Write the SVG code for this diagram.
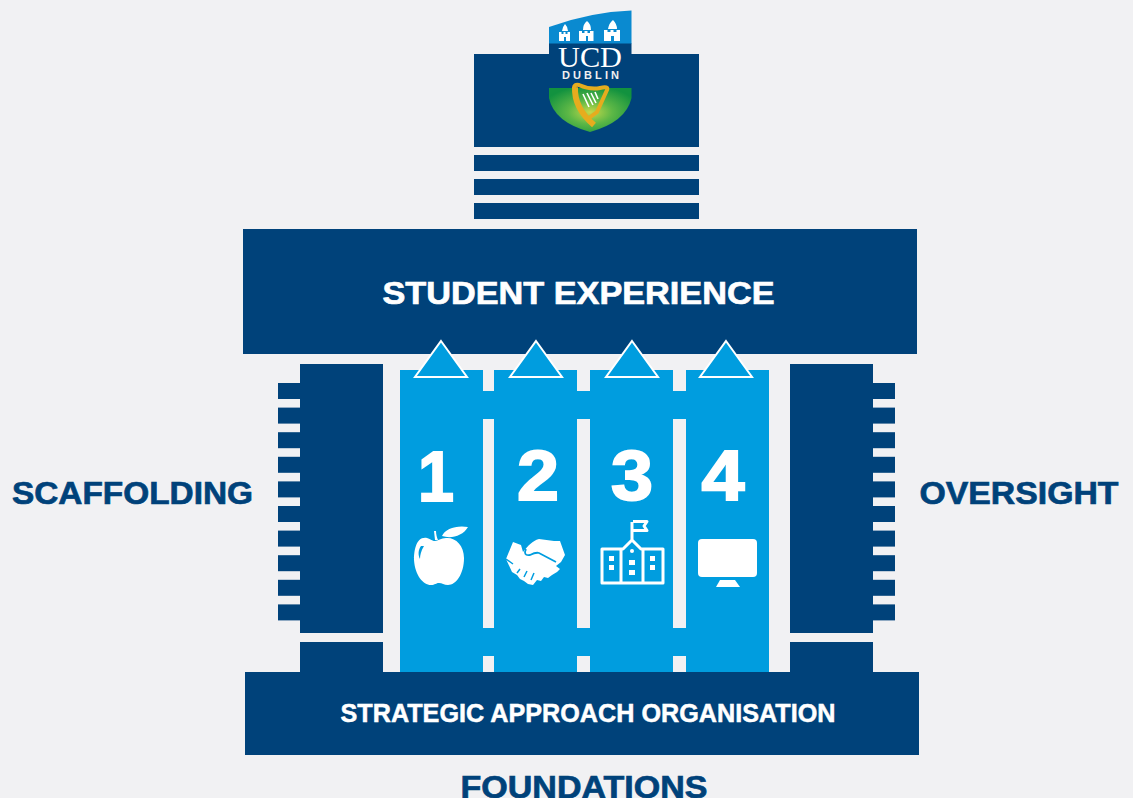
<svg xmlns="http://www.w3.org/2000/svg" width="1133" height="798" viewBox="0 0 1133 798">
<defs>
<style>
.d{fill:#00427a}.b{fill:#009ddf}.w{fill:#fff}
.t{font-family:"Liberation Sans",Arial,sans-serif;font-weight:700;text-anchor:middle;fill:#fff;stroke:#fff}
.h{fill:#00427a;stroke:#00427a;stroke-width:.7;font-size:32px;font-family:"Liberation Sans",Arial,sans-serif;font-weight:700;text-anchor:middle}
.n{fill:#fff;stroke:#fff;stroke-width:2;font-family:"Liberation Sans",Arial,sans-serif;font-weight:700;font-size:71px;text-anchor:middle}
.tri{fill:#009ddf;stroke:#fff;stroke-width:2}
.o{fill:none;stroke:#fff;stroke-width:3;stroke-linejoin:round}
</style>
<radialGradient id="g" cx=".5" cy=".55" r=".6"><stop offset="0" stop-color="#c4d94a"/><stop offset=".45" stop-color="#5cb746"/><stop offset="1" stop-color="#12923f"/></radialGradient>
<g id="teeth"><rect class="d" x="0" y="0" width="22" height="16"/><rect class="d" x="0" y="24.600" width="22" height="16"/><rect class="d" x="0" y="49.200" width="22" height="16"/><rect class="d" x="0" y="73.800" width="22" height="16"/><rect class="d" x="0" y="98.400" width="22" height="16"/><rect class="d" x="0" y="123" width="22" height="16"/><rect class="d" x="0" y="147.600" width="22" height="16"/><rect class="d" x="0" y="172.200" width="22" height="16"/><rect class="d" x="0" y="196.800" width="22" height="16"/><rect class="d" x="0" y="221.400" width="22" height="16"/></g>
</defs>
<rect width="1133" height="798" fill="#f1f1f3"/>
<g id="roof">
<rect class="d" x="474" y="54" width="225" height="93"/>
<rect class="d" x="474" y="155" width="225" height="16"/>
<rect class="d" x="474" y="179" width="225" height="16"/>
<rect class="d" x="474" y="203" width="225" height="16"/>
</g>
<g id="logo">
<path d="M549 27Q590 12 631.500 10.500V44H549Z" fill="#0a8ad0"/>
<path class="d" d="M549 43.500h82.500V54H549z"/>
<path class="w" d="M559 41v-9h2.500v2h2v-2h2v2h2v-2h2.500v9zM579 41v-10h3v2h2.500v-2h3v2h2.500v-2h3.500v10zM604 41v-11h3.500v2h3v-2h3v2h3v-2h3.500v11z"/>
<path class="w" d="M562 31q1-5 3-7q3 3 3 7zM583 30q0-6 4-9q4 3 4 9zM608 29q1-6 5-9q4 4 4 9z"/>
<path d="M564 37h2v4h-2zM586 36h2v5h-2zM611 36h3v5h-3z" fill="#0a8ad0"/>
<text x="590" y="66.500" font-family="Liberation Serif,serif" font-size="29" fill="#fff" text-anchor="middle" textLength="64" lengthAdjust="spacingAndGlyphs">UCD</text>
<text x="590.500" y="78.500" font-family="Liberation Sans,sans-serif" font-size="11" font-weight="700" fill="#f0f0f0" text-anchor="middle" textLength="57" lengthAdjust="spacing">DUBLIN</text>
<path d="M549 88H631.500V98Q626 122 590 132Q554 122 549 98Z" fill="url(#g)"/>
<path d="M574 88Q574 84 579 85Q590 90 600 88Q609 86 607 90L597 112L589 118" fill="none" stroke="#e6ac1e" stroke-width="4"/>
<path d="M575 87Q574 108 594 125" fill="none" stroke="#e6ac1e" stroke-width="6"/>
<path d="M583 94l6 13M587 93l6 12M591 93l5 10M595 92l3 7" stroke="#fff" stroke-width="1.600"/>
</g>
<g id="student-experience">
<rect class="d" x="243" y="229" width="674" height="125"/>
<text class="t" x="578.500" y="304" font-size="32" stroke-width=".7" textLength="392" lengthAdjust="spacingAndGlyphs">STUDENT EXPERIENCE</text>
</g>
<g id="scaffolding">
<rect class="d" x="300" y="364" width="83" height="269"/>
<rect class="d" x="300" y="642" width="83" height="30"/>
<use href="#teeth" x="278" y="383"/>
<text class="h" x="132.500" y="503.500" textLength="241" lengthAdjust="spacingAndGlyphs">SCAFFOLDING</text>
</g>
<g id="oversight">
<rect class="d" x="790" y="364" width="83" height="269"/>
<rect class="d" x="790" y="642" width="83" height="30"/>
<use href="#teeth" x="873" y="383"/>
<text class="h" x="1019" y="503.500" textLength="199" lengthAdjust="spacingAndGlyphs">OVERSIGHT</text>
</g>
<g id="bands">
<rect class="b" x="400" y="391" width="369" height="28"/>
<rect class="b" x="400" y="628" width="369" height="28"/>
</g>
<g id="pillar-1">
<rect class="b" x="400" y="370" width="83" height="302"/>
<path class="tri" d="M441 341L467 377H415Z"/>
<text class="n" x="436" y="501" textLength="36" lengthAdjust="spacingAndGlyphs">1</text>
<path class="w" d="M427 538C416 536 414 551 414 560C415 575 423 585 431 585C435 585 436 583 439 583C442 583 444 585 448 585C456 585 464 574 464 558C464 545 455 537 446 538C441 538 438 541 435 541C432 541 431 539 427 538ZM442 536C445 529 456 525 468 527C463 536 451 539 442 536ZM434 531L436 531C436 534 437 538 438 540H435Z"/>
<path d="M421 546C418 550 418 555 420 559C420 555 421 551 424 546Z" fill="#009ddf"/>
</g>
<g id="pillar-2">
<rect class="b" x="494" y="370" width="83" height="302"/>
<path class="tri" d="M536 341L562 377H510Z"/>
<text class="n" x="538" y="500" textLength="42" lengthAdjust="spacingAndGlyphs">2</text>
<path class="w" d="M513 542L521 545L523 552C529 545 532 541 539 539L554 541L560 541L565 555L561 562L556 566L560 569L557 572L552 575L548 578L544 577L541 581L537 580L533 585L528 584L524 581L520 579L517 575L512 572L506 559Z"/>
<path d="M526 549C524 553 525 556 530 555C534 553 536 552 539 553L556 562" fill="none" stroke="#009ddf" stroke-width="1.800"/>
<path d="M520 569L517 573M527 571L524 577M534 573L531 580M506 559L513 564" stroke="#009ddf" stroke-width="1.500"/>
</g>
<g id="pillar-3">
<rect class="b" x="590" y="370" width="83" height="302"/>
<path class="tri" d="M632 341L658 377H606Z"/>
<text class="n" x="632" y="500" textLength="42" lengthAdjust="spacingAndGlyphs">3</text>
<path class="o" d="M602 549H621V583H602ZM643 549H663V583H643ZM621 549H623L632 540L641 549H643M621 549V583H643M632 540V522M633 521.500H647L644 526L647 530.500H633"/>
<path class="w" d="M609 556h5v5h-5zM609 565h5v5h-5zM629 560h6v5h-6zM629 570h6v5h-6zM650 556h5v5h-5zM650 565h5v5h-5z"/>
<circle class="w" cx="632" cy="551" r="2"/>
</g>
<g id="pillar-4">
<rect class="b" x="686" y="370" width="83" height="302"/>
<path class="tri" d="M726 341L752 377H700Z"/>
<text class="n" x="723" y="500" textLength="43" lengthAdjust="spacingAndGlyphs">4</text>
<rect class="w" x="698" y="539" width="59" height="38" rx="4"/>
<path class="w" d="M720 580H735L740 587H716Z"/>
</g>
<g id="foundations">
<rect class="d" x="245" y="672" width="674" height="83"/>
<text class="t" x="588" y="721.500" font-size="26" stroke-width=".5" textLength="495" lengthAdjust="spacingAndGlyphs">STRATEGIC APPROACH ORGANISATION</text>
<text class="h" x="584" y="797.500" textLength="247" lengthAdjust="spacingAndGlyphs">FOUNDATIONS</text>
</g>
<g id="connectors"/>
</svg>
